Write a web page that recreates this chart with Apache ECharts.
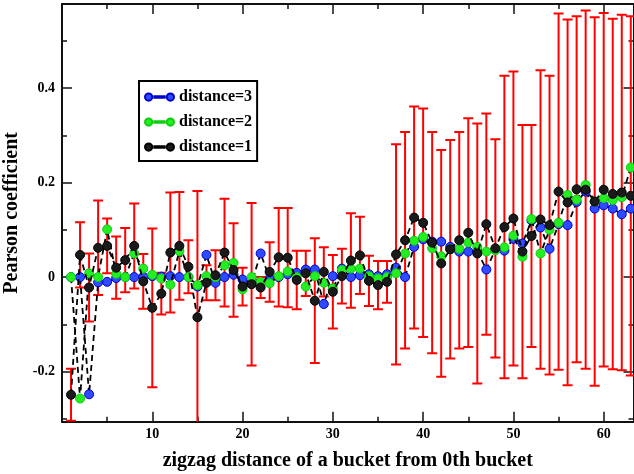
<!DOCTYPE html>
<html>
<head>
<meta charset="utf-8">
<script src="https://cdn.jsdelivr.net/npm/echarts@6.0.0/dist/echarts.min.js"></script>
<style>
  html, body { margin: 0; padding: 0; background: #fff; }
  #chart { width: 634px; height: 474px; }
</style>
</head>
<body>
<div id="chart"></div>
<script>
// zigzag distance (x)
var buckets = [1, 2, 3, 4, 5, 6, 7, 8, 9, 10, 11, 12, 13, 14, 15, 16, 17, 18, 19, 20,
  21, 22, 23, 24, 25, 26, 27, 28, 29, 30, 31, 32, 33, 34, 35, 36, 37, 38, 39, 40,
  41, 42, 43, 44, 45, 46, 47, 48, 49, 50, 51, 52, 53, 54, 55, 56, 57, 58, 59, 60,
  61, 62, 63];

// distance=1 (black) + its error bars
var dist1 = [-0.249, 0.047, -0.022, 0.062, 0.066, 0.020, 0.036, 0.066, -0.009, -0.065,
  -0.035, 0.052, 0.066, 0.022, -0.085, -0.012, 0.004, 0.052, 0.015, -0.020,
  -0.015, -0.022, 0.011, 0.042, 0.041, -0.006, 0.008, -0.050, 0.011, -0.031,
  0.002, 0.035, 0.046, -0.008, -0.017, -0.010, 0.048, 0.078, 0.126, 0.115,
  0.073, 0.029, 0.059, 0.078, 0.094, 0.050, 0.112, 0.061, 0.106, 0.124,
  0.054, 0.087, 0.122, 0.110, 0.181, 0.158, 0.186, 0.185, 0.160, 0.185,
  0.176, 0.179, 0.172];
var dist1Err = [0.055, 0.069, 0.072, 0.100, 0.058, 0.066, 0.068, 0.090, 0.058, 0.168,
  0.044, 0.127, 0.114, 0.056, 0.267, 0.037, 0.053, 0.114, 0.099, 0.040,
  0.172, 0.022, 0.063, 0.104, 0.105, 0.062, 0.048, 0.132, 0.052, 0.078,
  0.058, 0.100, 0.082, 0.053, 0.051, 0.044, 0.233, 0.229, 0.235, 0.242,
  0.234, 0.240, 0.231, 0.229, 0.242, 0.275, 0.234, 0.231, 0.320, 0.311,
  0.268, 0.235, 0.316, 0.316, 0.377, 0.387, 0.366, 0.379, 0.390, 0.374,
  0.371, 0.376, 0.380];

// distance=2 (green)
var dist2 = [0, -0.257, 0.008, 0, 0.101, 0.007, 0, 0.050, 0.018, 0.005,
  -0.003, -0.016, 0.055, 0, -0.017, 0.002, 0, 0.025, 0.030, -0.026,
  0, -0.010, -0.013, 0.002, 0.012, 0, -0.020, 0.002, -0.012, -0.024,
  0.015, 0.018, 0.018, 0.002, -0.003, 0, 0.008, 0.050, 0.077, 0.085,
  0.061, 0.044, 0.059, 0.060, 0.073, 0.064, 0.054, 0.057, 0.063, 0.088,
  0.043, 0.123, 0.050, 0.100, 0.115, 0.174, 0.164, 0.195, 0.160, 0.167,
  0.163, 0.169, 0.232];

// distance=3 (blue)
var dist3 = [0, 0, -0.248, -0.011, -0.010, -0.002, 0, 0, 0.001, 0.002,
  0.001, 0.002, 0, 0, -0.020, 0.047, -0.012, 0, 0.005, -0.005,
  -0.013, 0.050, -0.003, 0, 0.006, 0.009, 0.016, 0.016, -0.057, 0.002,
  0.018, 0, 0.004, 0.006, 0.002, 0.006, 0.020, 0, 0.064, 0.080,
  0.075, 0.075, 0.064, 0.054, 0.054, 0.055, 0.016, 0.058, 0.056, 0.081,
  0.071, 0.120, 0.105, 0.060, 0.112, 0.110, 0.159, 0.181, 0.145, 0.152,
  0.145, 0.133, 0.145];

var font = "'Liberation Serif', 'DejaVu Serif', serif";
var chart = echarts.init(document.getElementById("chart"));

function pairs(vals) {
  return buckets.map(function (b, i) { return [b, vals[i]]; });
}

function lineSeries(name, vals, color, border, z) {
  return {
    name: name,
    type: "line",
    data: pairs(vals),
    symbol: "circle",
    symbolSize: 9,
    z: z,
    lineStyle: { color: "#000", width: 1.8, type: [6, 4] },
    itemStyle: { color: color, borderColor: border, borderWidth: 1 },
  };
}

// shared axis bits
var xRange = { min: 0, max: 63.3 };
var yRange = { min: -0.306, max: 0.578 };
var frame = { show: true, onZero: false, lineStyle: { color: "#111", width: 2 } };
var noLine = { show: false, onZero: false };

function xAx(pos, interval, tickLen, extra) {
  return Object.assign({
    type: "value", position: pos, min: xRange.min, max: xRange.max,
    interval: interval,
    axisLine: tickLen === 10 ? frame : noLine,
    axisTick: { show: true, inside: true, length: tickLen, lineStyle: { color: "#111", width: 1.5 } },
    axisLabel: { show: false },
    splitLine: { show: false },
  }, extra || {});
}

function yAx(pos, step, tickLen, extra) {
  return Object.assign({
    type: "value", position: pos, min: yRange.min, max: yRange.max,
    splitNumber: Math.round((yRange.max - yRange.min) / step),
    minInterval: step, maxInterval: step,
    axisLine: tickLen === 10 ? frame : noLine,
    axisTick: { show: true, inside: true, length: tickLen, lineStyle: { color: "#111", width: 1.5 } },
    axisLabel: { show: false },
    splitLine: { show: false },
  }, extra || {});
}

var option = {
  animation: false,
  backgroundColor: "#fff",
  grid: { left: 62, right: 0.5, top: 4, bottom: 52.3, containLabel: false, outerBoundsMode: "none" },
  legend: {
    data: ["distance=3", "distance=2", "distance=1"],
    orient: "vertical",
    left: 139,
    top: 81,
    padding: [8, 5, 6, 5],
    itemGap: 9,
    itemWidth: 29,
    itemHeight: 8,
    borderColor: "#000",
    borderWidth: 2,
    backgroundColor: "#fff",
    icon: "path://M0.5,4A3.5,3.5,0,1,1,7.5,4A3.5,3.5,0,1,1,0.5,4Z M9.5,3.3H14V4.7H9.5Z M15.5,3.3H19.5V4.7H15.5Z M21.5,4A3.5,3.5,0,1,1,28.5,4A3.5,3.5,0,1,1,21.5,4Z",
    textStyle: { fontFamily: font, fontWeight: "bold", fontSize: 16, color: "#000" },
  },
  xAxis: [
    xAx("bottom", 10, 10, {
      axisLabel: {
        show: true, showMinLabel: false, showMaxLabel: false, margin: 6,
        fontFamily: font, fontWeight: "bold", fontSize: 14, color: "#000",
      },
      name: "zigzag distance of a bucket from 0th bucket",
      nameLocation: "middle",
      nameGap: 29,
      nameTextStyle: { fontFamily: font, fontWeight: "bold", fontSize: 20, color: "#000" },
    }),
    xAx("bottom", 5, 5),
    xAx("top", 10, 10),
    xAx("top", 5, 5),
  ],
  yAxis: [
    yAx("left", 0.2, 10, {
      axisLabel: {
        show: true, showMinLabel: false, showMaxLabel: false, margin: 7,
        fontFamily: font, fontWeight: "bold", fontSize: 14, color: "#000",
        formatter: function (v) { return Math.abs(v) < 1e-9 ? "0" : v.toFixed(1); },
      },
      name: "Pearson coefficient",
      nameLocation: "middle",
      nameGap: 36,
      nameTextStyle: { fontFamily: font, fontWeight: "bold", fontSize: 20, color: "#000" },
    }),
    yAx("left", 0.1, 5),
    yAx("right", 0.2, 10),
    yAx("right", 0.1, 5),
  ],
  series: [
    {
      name: "err",
      type: "custom",
      z: 1,
      clip: true,
      data: buckets.map(function (b, i) {
        return [b, dist1[i] - dist1Err[i], dist1[i] + dist1Err[i]];
      }),
      encode: { x: 0, y: [1, 2] },
      renderItem: function (params, api) {
        var x = api.value(0);
        var lo = api.coord([x, api.value(1)]);
        var hi = api.coord([x, api.value(2)]);
        var hw = 5;
        var st = { stroke: "#ff0000", lineWidth: 2 };
        return {
          type: "group",
          children: [
            { type: "line", shape: { x1: lo[0], y1: lo[1], x2: hi[0], y2: hi[1] }, style: st },
            { type: "line", shape: { x1: lo[0] - hw, y1: lo[1], x2: lo[0] + hw, y2: lo[1] }, style: st },
            { type: "line", shape: { x1: hi[0] - hw, y1: hi[1], x2: hi[0] + hw, y2: hi[1] }, style: st },
          ],
        };
      },
    },
    lineSeries("distance=3", dist3, "#2f4bff", "#0000cc", 2),
    lineSeries("distance=2", dist2, "#22ee22", "#11cc11", 3),
    lineSeries("distance=1", dist1, "#1a1a1a", "#000", 4),
  ],
};

chart.setOption(option);
</script>
</body>
</html>
